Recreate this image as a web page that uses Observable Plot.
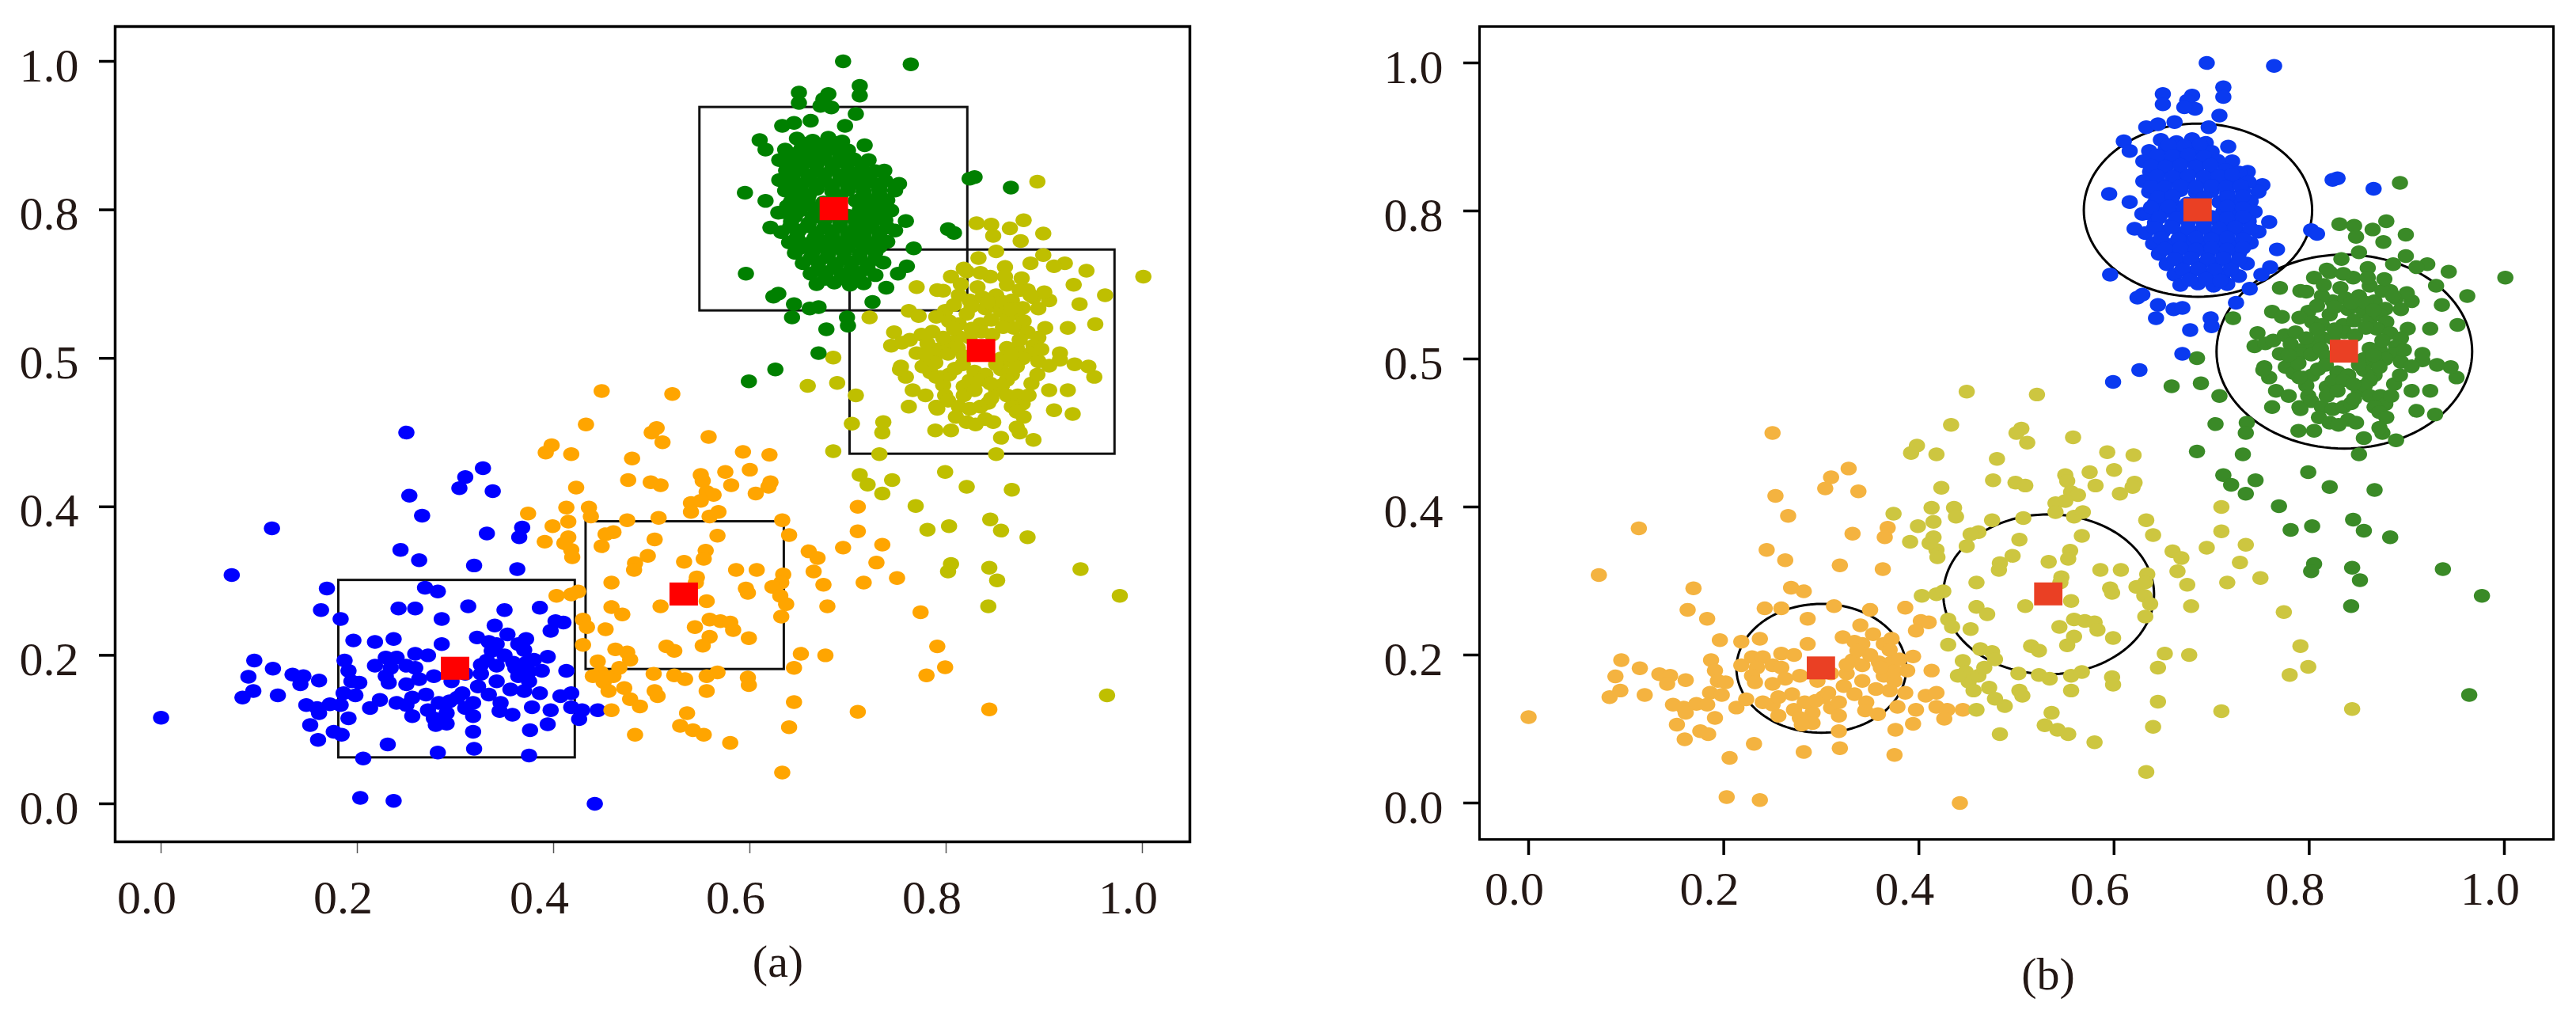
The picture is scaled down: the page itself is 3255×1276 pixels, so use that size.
<!DOCTYPE html>
<html>
<head>
<meta charset="utf-8">
<script src="https://cdn.jsdelivr.net/npm/d3@7"></script>
<script src="https://cdn.jsdelivr.net/npm/@observablehq/plot@0.6"></script>
<style>
  body { margin: 0; background: #fff; }
  #wrap { position: relative; width: 3255px; height: 1276px; overflow: hidden; font-family: "Liberation Serif", "Times New Roman", serif; }
  .panel { position: absolute; top: 0; }
  .cap { position: absolute; font-size: 58px; line-height: 1; color: #231815; transform: translateX(-50%); white-space: nowrap; }
</style>
</head>
<body>
<div id="wrap"></div>
<script>
// ---------------- data ----------------
const xTicks = [0, 0.2, 0.4, 0.6, 0.8, 1.0];
const xTickLabels = ["0.0", "0.2", "0.4", "0.6", "0.8", "1.0"];
const yTicks = [0, 0.2, 0.4, 0.6, 0.8, 1.0];
const yTickLabels = ["0.0", "0.2", "0.4", "0.5", "0.8", "1.0"];

// cluster order: low, mid, right, top
const centerX = [0.300, 0.533, 0.836, 0.686];
const centerY = [0.182, 0.282, 0.610, 0.801];
// panel (a) boxes
const boxX1 = [0.181, 0.433, 0.702, 0.549];
const boxX2 = [0.422, 0.635, 0.972, 0.822];
const boxY1 = [0.062, 0.181, 0.471, 0.664];
const boxY2 = [0.301, 0.380, 0.746, 0.938];
// panel (b) circle radii
const circleR = [0.087, 0.108, 0.131, 0.117];

const colorsA = ["#0000ff", "#ffa500", "#bfbf00", "#008000"];
const colorsB = ["#f4b340", "#cdc640", "#3a8a27", "#0a3af0"];
const redA = "#ff0000";
const redB = "#ea4024";

const lowPts = [
[0.113,0.371],[0.072,0.308],[0.000,0.116],[0.250,0.500],[0.328,0.452],[0.310,0.440],[0.304,0.425],[0.338,0.421],[0.253,0.415],[0.266,0.388],[0.332,0.364],[0.368,0.372],[0.365,0.359],[0.244,0.342],[0.263,0.328],[0.319,0.321],[0.363,0.316],
[0.169,0.290],[0.269,0.291],[0.282,0.286],[0.163,0.261],[0.183,0.249],[0.242,0.263],[0.259,0.263],[0.313,0.266],[0.286,0.249],[0.350,0.261],[0.386,0.264],
[0.196,0.220],[0.218,0.218],[0.237,0.222],[0.286,0.215],[0.322,0.224],[0.340,0.240],[0.342,0.215],[0.364,0.215],[0.372,0.222],
[0.095,0.193],[0.114,0.182],[0.089,0.171],[0.094,0.152],[0.083,0.143],[0.119,0.146],[0.134,0.174],[0.145,0.172],[0.142,0.161],[0.161,0.166],
[0.187,0.193],[0.191,0.179],[0.194,0.165],[0.202,0.163],[0.218,0.186],[0.229,0.197],[0.240,0.197],[0.234,0.183],[0.229,0.172],[0.250,0.186],[0.259,0.202],[0.272,0.200],[0.259,0.183],[0.232,0.163],[0.263,0.168],[0.278,0.172],[0.250,0.161],[0.296,0.165],[0.310,0.175],[0.326,0.175],
[0.186,0.149],[0.198,0.146],[0.148,0.133],[0.159,0.129],[0.172,0.134],[0.183,0.133],[0.161,0.122],[0.191,0.115],[0.152,0.106],[0.176,0.097],[0.184,0.093],[0.160,0.086],
[0.213,0.129],[0.223,0.140],[0.240,0.136],[0.250,0.133],[0.256,0.118],[0.272,0.126],[0.291,0.122],[0.302,0.143],[0.310,0.129],[0.318,0.136],[0.283,0.136],[0.294,0.138],[0.318,0.118],[0.270,0.147],[0.256,0.143],[0.278,0.115],[0.291,0.108],
[0.323,0.158],[0.334,0.147],[0.342,0.165],[0.356,0.154],[0.364,0.172],[0.375,0.165],[0.332,0.193],[0.342,0.186],[0.350,0.200],[0.359,0.190],[0.370,0.207],[0.372,0.190],[0.375,0.178],[0.346,0.136],[0.358,0.120],[0.334,0.218],[0.353,0.228],
[0.318,0.097],[0.280,0.106],[0.231,0.080],[0.282,0.069],[0.319,0.074],[0.376,0.099],[0.375,0.065],[0.206,0.061],[0.203,0.008],[0.237,0.004],
[0.402,0.246],[0.397,0.233],[0.410,0.244],[0.380,0.194],[0.394,0.198],[0.413,0.179],[0.388,0.179],[0.386,0.149],[0.407,0.145],[0.418,0.149],[0.378,0.130],[0.397,0.126],[0.418,0.130],[0.429,0.126],[0.445,0.126],[0.426,0.114],[0.394,0.107],[0.442,0.000],
[0.337,0.206],[0.361,0.183],[0.326,0.187],[0.307,0.149],[0.370,0.152],[0.345,0.125]
];

const midPts = [
[0.449,0.556],[0.521,0.552],[0.433,0.511],[0.505,0.506],[0.511,0.487],[0.500,0.500],[0.558,0.494],[0.398,0.483],[0.392,0.473],[0.418,0.471],[0.480,0.465],[0.593,0.474],[0.620,0.470],[0.575,0.447],[0.600,0.450],[0.476,0.436],[0.499,0.433],[0.509,0.429],[0.550,0.443],[0.552,0.435],[0.581,0.429],[0.621,0.433],[0.619,0.427],[0.606,0.418],[0.423,0.426],[0.556,0.420],[0.563,0.416],[0.540,0.405],[0.550,0.408],
[0.374,0.391],[0.413,0.399],[0.436,0.399],[0.438,0.387],[0.540,0.393],[0.559,0.387],[0.568,0.393],[0.507,0.385],[0.475,0.382],[0.461,0.366],[0.453,0.363],[0.399,0.374],[0.415,0.380],[0.415,0.359],[0.418,0.342],[0.411,0.351],[0.419,0.332],[0.391,0.353],[0.449,0.347],[0.503,0.356],[0.567,0.361],[0.633,0.382],[0.640,0.362],[0.660,0.340],[0.669,0.331],[0.695,0.345],[0.710,0.400],[0.710,0.367],[0.735,0.349],
[0.483,0.324],[0.496,0.334],[0.482,0.315],[0.555,0.341],[0.553,0.330],[0.533,0.326],[0.586,0.315],[0.607,0.315],[0.634,0.309],[0.632,0.298],[0.665,0.313],[0.675,0.295],[0.716,0.298],[0.729,0.325],[0.750,0.304],[0.459,0.298],[0.546,0.305],[0.545,0.298],[0.596,0.290],[0.598,0.284],[0.623,0.292],[0.631,0.280],[0.637,0.269],[0.679,0.266],
[0.403,0.280],[0.418,0.282],[0.425,0.286],[0.509,0.266],[0.556,0.273],[0.459,0.265],[0.470,0.255],[0.430,0.248],[0.434,0.238],[0.453,0.235],[0.632,0.252],[0.774,0.258],[0.544,0.238],[0.559,0.248],[0.570,0.246],[0.580,0.244],[0.583,0.234],[0.559,0.225],[0.552,0.213],[0.599,0.223],
[0.430,0.214],[0.463,0.208],[0.475,0.204],[0.478,0.194],[0.515,0.212],[0.523,0.206],[0.652,0.202],[0.645,0.183],[0.677,0.200],[0.791,0.212],[0.799,0.184],[0.780,0.173],
[0.445,0.192],[0.448,0.177],[0.451,0.164],[0.440,0.172],[0.456,0.152],[0.461,0.172],[0.467,0.183],[0.472,0.156],[0.478,0.141],[0.488,0.131],[0.502,0.175],[0.503,0.152],[0.506,0.145],[0.523,0.173],[0.534,0.168],[0.556,0.172],[0.556,0.152],[0.567,0.177],[0.598,0.170],[0.599,0.160],
[0.459,0.126],[0.536,0.122],[0.529,0.105],[0.542,0.099],[0.553,0.093],[0.483,0.093],[0.580,0.082],[0.645,0.137],[0.710,0.124],[0.640,0.103],[0.633,0.042],[0.844,0.127]
];

const rightPts = [
[1.001,0.710],[0.943,0.718],[0.962,0.685],[0.921,0.728],[0.893,0.838],
[0.831,0.782],[0.846,0.780],[0.865,0.775],[0.879,0.786],[0.899,0.768],[0.848,0.765],[0.876,0.758],[0.851,0.744],[0.833,0.735],[0.860,0.723],[0.886,0.728],[0.899,0.739],[0.910,0.724],
[0.805,0.710],[0.821,0.717],[0.770,0.696],[0.791,0.692],
[0.722,0.655],[0.747,0.635],[0.744,0.617],[0.755,0.621],[0.685,0.601],[0.689,0.567],[0.659,0.563],[0.708,0.550],[0.704,0.512],[0.736,0.514],[0.735,0.500],[0.685,0.475],[0.732,0.471],
[0.754,0.589],[0.759,0.575],[0.762,0.535],[0.766,0.557],[0.779,0.550],[0.790,0.535],[0.789,0.503],[0.805,0.503],[0.818,0.562],[0.851,0.471],[0.875,0.500],[0.889,0.490],[0.929,0.525],[0.910,0.530],[0.924,0.557],[0.905,0.557],[0.951,0.575],[0.945,0.589],[0.931,0.592],[0.916,0.598],[0.952,0.646],[0.924,0.641],[0.901,0.641],[0.936,0.673],[0.930,0.699],[0.905,0.678],[0.867,0.678],[0.883,0.692],[0.845,0.710],[0.797,0.691],[0.824,0.678],[0.840,0.667],
[0.712,0.443],[0.720,0.430],[0.745,0.436],[0.735,0.418],[0.799,0.447],[0.821,0.427],[0.867,0.423],[0.769,0.401],[0.781,0.369],[0.803,0.374],[0.845,0.383],[0.856,0.368],[0.883,0.359],[0.805,0.323],[0.802,0.313],[0.844,0.318],[0.852,0.301],[0.937,0.316],[0.977,0.280],[0.843,0.266],[0.964,0.146],
[0.818,0.721],[0.835,0.715],[0.813,0.685],[0.832,0.696],[0.837,0.682],[0.851,0.685],[0.848,0.671],[0.862,0.699],[0.875,0.692],[0.889,0.682],[0.878,0.668],[0.900,0.689],[0.894,0.667],[0.762,0.664],[0.772,0.657],[0.799,0.664],[0.790,0.656],[0.803,0.650],[0.821,0.660],[0.813,0.646],[0.835,0.646],[0.846,0.652],[0.856,0.664],[0.862,0.653],[0.872,0.660],[0.879,0.650],[0.869,0.641],[0.883,0.635],[0.894,0.628],[0.889,0.617],[0.886,0.607],
[0.763,0.625],[0.775,0.632],[0.786,0.636],[0.781,0.620],[0.794,0.613],[0.802,0.622],[0.813,0.629],[0.824,0.628],[0.836,0.636],[0.847,0.632],[0.770,0.607],[0.781,0.599],[0.791,0.607],[0.802,0.606],[0.812,0.614],[0.862,0.614],[0.872,0.614],[0.878,0.600],[0.867,0.596],[0.894,0.596],
[0.776,0.589],[0.784,0.581],[0.794,0.575],[0.803,0.578],[0.809,0.586],[0.829,0.582],[0.840,0.578],[0.824,0.570],[0.835,0.571],[0.856,0.585],[0.867,0.578],[0.872,0.589],[0.862,0.571],[0.797,0.564],[0.799,0.550],[0.851,0.557],[0.857,0.564],[0.862,0.550],[0.873,0.550],[0.878,0.539],[0.802,0.543],[0.813,0.535],[0.824,0.532],[0.835,0.535],[0.843,0.540],[0.810,0.521],[0.821,0.514],[0.840,0.518],[0.848,0.514],[0.856,0.493],[0.867,0.535],[0.872,0.528],[0.879,0.521],[0.830,0.511],[0.886,0.685],[0.753,0.585],[0.791,0.532],[0.872,0.507],[0.916,0.607],
[0.808,0.672],[0.826,0.670],[0.843,0.676],[0.858,0.676],[0.866,0.666],[0.808,0.640],[0.826,0.640],[0.858,0.642],[0.875,0.625],[0.797,0.628],[0.818,0.603],[0.856,0.600],[0.866,0.605],[0.851,0.592],[0.817,0.592],[0.789,0.594],[0.845,0.566],[0.818,0.550],[0.829,0.557],[0.846,0.546],[0.887,0.566],[0.893,0.578],[0.884,0.550],[0.790,0.575],[0.779,0.605],[0.897,0.612],[0.905,0.590],[0.815,0.700],[0.860,0.710],[0.877,0.708]
];

const topPts = [
[0.695,1.000],[0.764,0.996],[0.712,0.967],[0.712,0.954],[0.650,0.958],[0.650,0.944],[0.680,0.956],[0.675,0.949],[0.683,0.938],[0.672,0.940],[0.708,0.929],[0.697,0.913],[0.633,0.913],[0.645,0.917],[0.662,0.920],[0.610,0.894],[0.616,0.881],[0.717,0.887],[0.721,0.867],[0.737,0.853],[0.752,0.835],[0.748,0.826],[0.595,0.823],[0.616,0.812],[0.629,0.796],[0.621,0.776],[0.759,0.785],[0.767,0.748],[0.760,0.724],[0.751,0.714],[0.802,0.774],[0.808,0.769],[0.824,0.842],[0.829,0.844],[0.866,0.830],[0.596,0.714],[0.624,0.683],[0.629,0.687],[0.645,0.673],[0.661,0.667],[0.670,0.669],[0.643,0.655],[0.678,0.639],[0.699,0.655],[0.700,0.644],[0.725,0.676],[0.739,0.695],[0.670,0.607],[0.626,0.585],[0.599,0.569],
[0.648,0.896],[0.664,0.893],[0.680,0.897],[0.694,0.892],
[0.636,0.881],[0.653,0.884],[0.668,0.879],[0.684,0.883],[0.700,0.880],
[0.630,0.867],[0.645,0.869],[0.661,0.866],[0.676,0.870],[0.691,0.866],[0.706,0.868],
[0.637,0.853],[0.652,0.856],[0.668,0.852],[0.684,0.855],[0.700,0.851],[0.714,0.855],[0.728,0.852],
[0.630,0.840],[0.645,0.838],[0.660,0.842],[0.676,0.839],[0.692,0.841],[0.708,0.838],[0.722,0.841],[0.738,0.839],
[0.636,0.826],[0.652,0.824],[0.668,0.828],[0.684,0.825],[0.700,0.827],[0.716,0.824],[0.732,0.827],
[0.642,0.811],[0.659,0.813],[0.675,0.810],[0.708,0.812],[0.724,0.810],[0.740,0.813],
[0.634,0.797],[0.651,0.799],[0.667,0.796],[0.712,0.799],[0.728,0.796],[0.744,0.799],
[0.642,0.784],[0.660,0.782],[0.676,0.786],[0.692,0.783],[0.708,0.785],[0.722,0.782],[0.738,0.786],
[0.632,0.770],[0.650,0.772],[0.668,0.769],[0.684,0.771],[0.700,0.768],[0.716,0.771],[0.732,0.769],[0.748,0.772],
[0.640,0.756],[0.658,0.754],[0.676,0.757],[0.692,0.755],[0.708,0.758],[0.724,0.754],[0.740,0.757],
[0.646,0.742],[0.664,0.744],[0.680,0.741],[0.696,0.743],[0.712,0.740],[0.728,0.743],
[0.654,0.728],[0.670,0.730],[0.688,0.727],[0.704,0.729],[0.720,0.726],[0.736,0.729],
[0.662,0.714],[0.678,0.716],[0.694,0.713],[0.712,0.715],[0.728,0.712],
[0.668,0.700],[0.686,0.702],[0.702,0.699],[0.716,0.701],
[0.656,0.889],[0.672,0.888],[0.688,0.890],
[0.644,0.875],[0.660,0.874],[0.676,0.876],[0.692,0.873],
[0.638,0.861],[0.653,0.860],[0.668,0.862],[0.684,0.860],[0.699,0.862],
[0.644,0.847],[0.660,0.846],[0.676,0.848],[0.692,0.846],[0.707,0.847],[0.721,0.849],
[0.638,0.833],[0.652,0.832],[0.668,0.834],[0.684,0.832],[0.700,0.834],[0.715,0.832],[0.730,0.834],
[0.645,0.819],[0.660,0.820],[0.692,0.818],[0.716,0.819],[0.732,0.820],
[0.638,0.805],[0.656,0.806],[0.672,0.804],[0.716,0.806],[0.732,0.804],
[0.646,0.791],[0.664,0.790],[0.700,0.792],[0.716,0.790],[0.732,0.792],
[0.641,0.777],[0.659,0.778],[0.676,0.776],[0.692,0.778],[0.708,0.776],[0.724,0.778],[0.740,0.776],
[0.648,0.763],[0.666,0.762],[0.684,0.764],[0.700,0.762],[0.716,0.764],[0.732,0.762],
[0.652,0.749],[0.668,0.750],[0.684,0.748],[0.700,0.750],[0.716,0.748],[0.732,0.750],
[0.662,0.735],[0.679,0.736],[0.696,0.734],[0.712,0.736],[0.728,0.734],
[0.670,0.721],[0.686,0.722],[0.703,0.720],[0.720,0.721],
[0.677,0.707],[0.694,0.708],[0.709,0.706]
];

// ---------------- build ----------------
const groups = [lowPts, midPts, rightPts, topPts];
const points = groups.flatMap((g, k) => g.map(([x, y]) => ({x, y, k})));
const centers = centerX.map((x, k) => ({x, y: centerY[k], k}));
const boxes = boxX1.map((x1, k) => ({x1, x2: boxX2[k], y1: boxY1[k], y2: boxY2[k]}));
const circlePts = centers.flatMap((c, k) =>
  d3.range(0, 361, 3).map(a => ({k, x: c.x + circleR[k] * Math.cos(a * Math.PI / 180), y: c.y + circleR[k] * Math.sin(a * Math.PI / 180)})));
const xLabelMap = new Map(xTicks.map((t, i) => [t, xTickLabels[i]]));
const yLabelMap = new Map(yTicks.map((t, i) => [t, yTickLabels[i]]));

// slightly flattened dot shape (the figure is stretched horizontally)
const ellipseSymbol = {
  draw(ctx, size) {
    const r = Math.sqrt(size / Math.PI);
    const rx = r * 1.08, ry = r * 0.92, k = 0.5523;
    ctx.moveTo(rx, 0);
    ctx.bezierCurveTo(rx, ry * k, rx * k, ry, 0, ry);
    ctx.bezierCurveTo(-rx * k, ry, -rx, ry * k, -rx, 0);
    ctx.bezierCurveTo(-rx, -ry * k, -rx * k, -ry, 0, -ry);
    ctx.bezierCurveTo(rx * k, -ry, rx, -ry * k, rx, 0);
    ctx.closePath();
  }
};

const FONT = "Liberation Serif, Times New Roman, serif";
const TEXT = "#231815";

function panel(cfg) {
  const hx = 0.0145, hy = 0.0155;
  return Plot.plot({
    width: cfg.width, height: cfg.height,
    marginLeft: cfg.mL, marginRight: cfg.mR, marginTop: cfg.mT, marginBottom: cfg.mB,
    x: {domain: cfg.xDom},
    y: {domain: cfg.yDom},
    color: {type: "identity"},
    style: {fontFamily: FONT, background: "transparent", overflow: "visible"},
    marks: [
      ...cfg.shapes,
      Plot.dot(points, {x: "x", y: "y", fill: d => cfg.colors[d.k], r: 9.5, symbol: ellipseSymbol}),
      Plot.rect(centers, {x1: d => d.x - hx, x2: d => d.x + hx, y1: d => d.y - hy, y2: d => d.y + hy, fill: cfg.red}),
      Plot.axisX({ticks: xTicks, tickSize: cfg.xTickSize, stroke: cfg.xTickColor, strokeWidth: cfg.xTickW, fill: "none", label: null}),
      Plot.axisX({ticks: xTicks, tickSize: 0, tickPadding: cfg.xLabelPad, tickFormat: d => xLabelMap.get(d), fontSize: 60, fill: TEXT, dx: -18, label: null}),
      Plot.axisY({ticks: yTicks, tickSize: 20, strokeWidth: 3.5, stroke: "#000", fill: "none", label: null}),
      Plot.axisY({ticks: yTicks, tickSize: 0, tickPadding: 46, tickFormat: d => yLabelMap.get(d), fontSize: 60, fill: TEXT, dy: 6, label: null}),
      Plot.frame({stroke: "#000", strokeWidth: cfg.frameW})
    ]
  });
}

const left = panel({
  width: 1620, height: 1180, mL: 145, mR: 117, mT: 33, mB: 117,
  xDom: [-0.0468, 1.0484], yDom: [-0.0512, 1.0469],
  colors: colorsA, red: redA, frameW: 3.5,
  xTickSize: 15, xTickColor: "#555", xTickW: 1.5, xLabelPad: 48,
  shapes: [Plot.rect(boxes, {x1: "x1", x2: "x2", y1: "y1", y2: "y2", fill: "none", stroke: "#111", strokeWidth: 3})]
});
const right = panel({
  width: 1555, height: 1180, mL: 169, mR: 29, mT: 33, mB: 120,
  xDom: [-0.0503, 1.0503], yDom: [-0.0492, 1.0492],
  colors: colorsB, red: redB, frameW: 3,
  xTickSize: 20, xTickColor: "#000", xTickW: 3.5, xLabelPad: 40,
  shapes: [Plot.line(circlePts, {x: "x", y: "y", z: "k", stroke: "#000", strokeWidth: 3, curve: "linear"})]
});

const wrap = document.getElementById("wrap");
const lw = document.createElement("div"); lw.className = "panel"; lw.style.left = "0px"; lw.appendChild(left); wrap.appendChild(lw);
const rw = document.createElement("div"); rw.className = "panel"; rw.style.left = "1700px"; rw.appendChild(right); wrap.appendChild(rw);

const capA = document.createElement("div"); capA.className = "cap"; capA.textContent = "(a)";
capA.style.left = "983px"; capA.style.top = "1186px"; wrap.appendChild(capA);
const capB = document.createElement("div"); capB.className = "cap"; capB.textContent = "(b)";
capB.style.left = "2588px"; capB.style.top = "1202px"; wrap.appendChild(capB);
</script>
</body>
</html>
